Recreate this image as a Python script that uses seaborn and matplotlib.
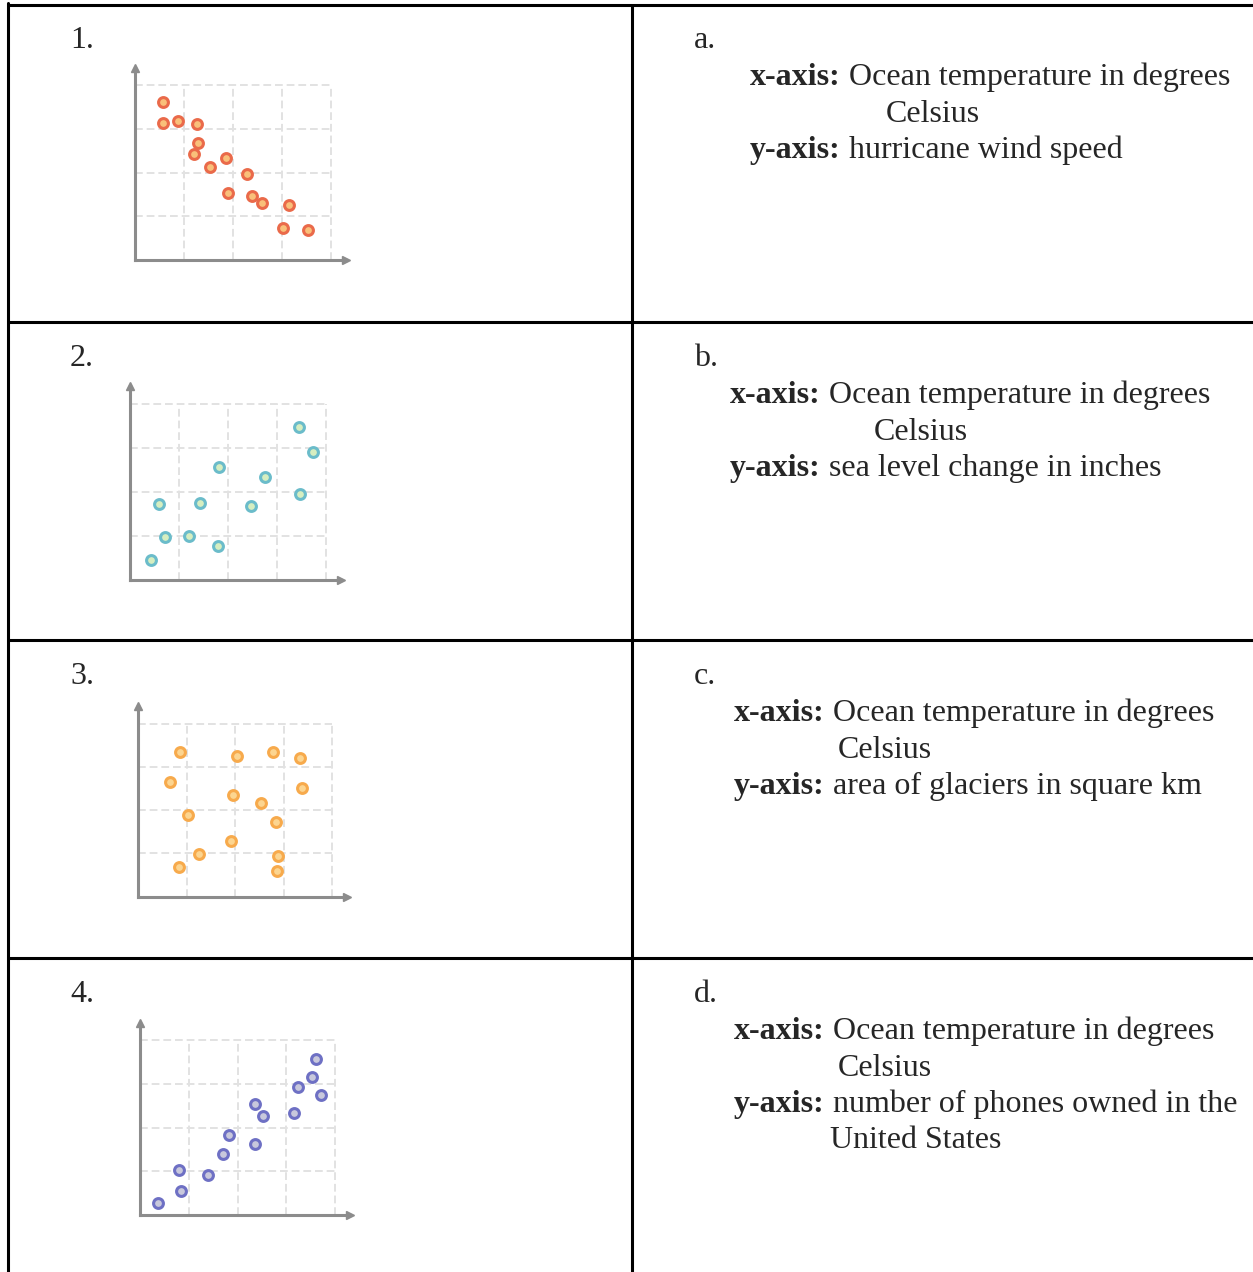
import matplotlib
matplotlib.use("Agg")
import matplotlib.pyplot as plt
import seaborn as sns

sns.set_style("white")
plt.rcParams["font.family"] = ["Liberation Serif", "DejaVu Serif"]

# scatter data (grid units 0-4)
x1 = [0.58, 0.57, 0.87, 1.26, 1.28, 1.20, 1.54, 1.86, 2.28, 1.89, 2.38, 2.60, 3.14, 3.03, 3.54]
y1 = [3.61, 3.14, 3.19, 3.12, 2.68, 2.42, 2.12, 2.33, 1.96, 1.54, 1.47, 1.30, 1.25, 0.73, 0.69]

x2 = [3.45, 3.74, 1.82, 2.75, 3.46, 0.60, 1.42, 2.46, 0.71, 1.21, 1.80, 0.43]
y2 = [3.48, 2.92, 2.57, 2.35, 1.95, 1.73, 1.75, 1.68, 0.97, 1.00, 0.78, 0.45]

x3 = [0.86, 2.04, 2.77, 3.33, 0.65, 3.38, 1.96, 2.52, 1.02, 2.84, 1.91, 1.25, 2.88, 0.84, 2.85]
y3 = [3.34, 3.25, 3.34, 3.20, 2.65, 2.52, 2.36, 2.17, 1.88, 1.73, 1.29, 0.98, 0.95, 0.69, 0.59]

x4 = [3.60, 3.53, 3.23, 3.70, 2.36, 2.53, 3.16, 1.82, 2.35, 1.71, 0.79, 1.39, 0.83, 0.37]
y4 = [3.58, 3.16, 2.92, 2.75, 2.53, 2.27, 2.34, 1.83, 1.62, 1.40, 1.02, 0.91, 0.56, 0.28]

numbers = ["1.", "2.", "3.", "4."]
letters = ["a.", "b.", "c.", "d."]
x_text = ["Ocean temperature in degrees"] * 4
x_cont = ["Celsius"] * 4
y_text = ["hurricane wind speed", "sea level change in inches",
          "area of glaciers in square km", "number of phones owned in the"]
y_cont = [None, None, None, "United States"]

W, H = 1253, 1272
fig = plt.figure(figsize=(W / 100, H / 100), dpi=100)
bg = fig.add_axes([0, 0, 1, 1])
bg.set_xlim(0, W)
bg.set_ylim(H, 0)
bg.axis("off")

# table lines
lw = 2.2
bg.plot([8, W], [4.5, 4.5], color="black", lw=lw, solid_capstyle="butt")
bg.plot([8, 8], [3.4, H], color="black", lw=lw)
bg.plot([632, 632], [4.5, H], color="black", lw=lw)
for yy in [322, 640, 958]:
    bg.plot([8, W], [yy, yy], color="black", lw=lw)

fs = 23
fig.canvas.draw()
renderer = fig.canvas.get_renderer()


def label_line(x, y, bold, rest):
    t = bg.text(x, y, bold, fontsize=fs, fontweight="bold", va="baseline", ha="left")
    bb = t.get_window_extent(renderer)
    x_end = x + bb.width + 8
    bg.text(x_end, y, rest, fontsize=fs, va="baseline", ha="left")


row_top = [0, 318, 636, 954]
label_x = [750, 730, 734, 734]
cont_x = [886, 874, 838, 838]
ycont_x = [None, None, None, 830]
for i in range(4):
    r = row_top[i]
    bg.text(70, r + 48, numbers[i], fontsize=fs, va="baseline")
    bg.text(694, r + 48, letters[i], fontsize=fs, va="baseline")
    label_line(label_x[i], r + 85, "x-axis:", x_text[i])
    bg.text(cont_x[i], r + 121.5, x_cont[i], fontsize=fs, va="baseline")
    label_line(label_x[i], r + 158, "y-axis:", y_text[i])
    if y_cont[i]:
        bg.text(ycont_x[i], r + 194.5, y_cont[i], fontsize=fs, va="baseline")

# small scatter charts
data = [(x1, y1), (x2, y2), (x3, y3), (x4, y4)]
origins = [(135, 260), (130, 580), (138.3, 896.7), (140, 1215)]
units = [(49, 43.7), (49, 44), (48.5, 43.3), (48.8, 43.7)]
edges = ["#ea6a4a", "#6bbcca", "#f7aa4c", "#6e70c4"]
faces = ["#f9c07a", "#d6eec0", "#fcd590", "#c8c8dc"]
xmax, ymax = 4.3, 4.4

for (xs, ys), (ox, oy), (ux, uy), ec, fc in zip(data, origins, units, edges, faces):
    wpx, hpx = xmax * ux, ymax * uy
    ax = fig.add_axes([ox / W, (H - oy) / H, wpx / W, hpx / H])
    ax.set_xlim(0, xmax)
    ax.set_ylim(0, ymax)
    ax.set_facecolor("none")
    for k in range(1, 5):
        ax.plot([k, k], [0, 4], color="#e2e2e2", lw=1.4, ls=(0, (4, 2)), zorder=1)
        ax.plot([0, 4], [k, k], color="#e2e2e2", lw=1.4, ls=(0, (4, 2)), zorder=1)
    sns.scatterplot(x=xs, y=ys, ax=ax, color=fc, edgecolor=ec, s=50,
                    linewidth=2.2, zorder=3, legend=False)
    for s in ["top", "right"]:
        ax.spines[s].set_visible(False)
    for s in ["left", "bottom"]:
        ax.spines[s].set_color("#8c8c8c")
        ax.spines[s].set_linewidth(2.2)
    ax.plot(1, 0, ">", color="#8c8c8c", ms=6, transform=ax.transAxes, clip_on=False)
    ax.plot(0, 1, "^", color="#8c8c8c", ms=6, transform=ax.transAxes, clip_on=False)
    ax.set_xticks([])
    ax.set_yticks([])
    ax.set_xlabel("")
    ax.set_ylabel("")

fig.savefig("out.png", dpi=100)
